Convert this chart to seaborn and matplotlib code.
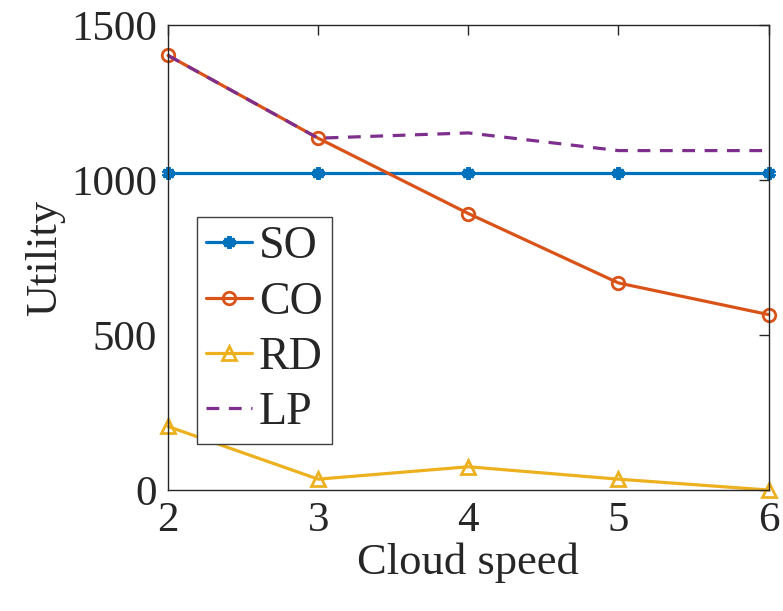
import pandas as pd
import matplotlib
matplotlib.use("Agg")
import matplotlib.pyplot as plt
import seaborn as sns

# data
cloud_speed = [2, 3, 4, 5, 6]
so_vals = [1022, 1022, 1022, 1022, 1022]
co_vals = [1402, 1135, 892, 668, 566]
rd_vals = [205, 35, 75, 35, 0]
lp_vals = [1402, 1135, 1152, 1095, 1095]

sns.set_style("white")
plt.rcParams['font.family'] = ['Liberation Serif', 'DejaVu Serif']

fig = plt.figure(figsize=(7.83, 6.11), dpi=100)
ax = fig.add_axes([0.2146, 0.198, 0.767, 0.761])

lw = 2.3
sns.lineplot(x=cloud_speed, y=so_vals, ax=ax, color='#0072BD', lw=lw,
             marker=(6, 2, 0), markersize=9, markeredgewidth=3,
             markeredgecolor='#0072BD', label='SO', clip_on=False)
sns.lineplot(x=cloud_speed, y=co_vals, ax=ax, color='#D95319', lw=lw,
             marker='o', markersize=9, markerfacecolor='none',
             markeredgecolor='#D95319', markeredgewidth=2, label='CO', clip_on=False)
sns.lineplot(x=cloud_speed, y=rd_vals, ax=ax, color='#EDB120', lw=lw,
             marker='^', markersize=10, markerfacecolor='none',
             markeredgecolor='#EDB120', markeredgewidth=2, label='RD', clip_on=False)
sns.lineplot(x=cloud_speed, y=lp_vals, ax=ax, color='#7E2F8E', lw=lw,
             linestyle=(0, (4, 3)), label='LP', clip_on=False)

ax.set_xlim(2, 6)
ax.set_ylim(0, 1500)
ax.set_xticks([2, 3, 4, 5, 6])
ax.set_yticks([0, 500, 1000, 1500])
ax.tick_params(direction='in', length=7, width=1, labelsize=31, colors='#262626',
               top=True, right=True, pad=8)
for sp in ax.spines.values():
    sp.set_color('#262626')
    sp.set_linewidth(1)
    sp.set_visible(True)

ax.set_xlabel('Cloud speed', fontsize=32, color='#262626', labelpad=2)
ax.set_ylabel('Utility', fontsize=32, color='#262626', labelpad=4)

leg = ax.legend(loc='lower left', bbox_to_anchor=(0.048, 0.1), fontsize=33,
                handlelength=1.0, handletextpad=0.15, labelspacing=0.28,
                borderpad=0.2, borderaxespad=0, fancybox=False, framealpha=1,
                edgecolor='#404040')
leg.get_frame().set_linewidth(1)
leg.set_zorder(5)

fig.savefig('out.png', dpi=100)
